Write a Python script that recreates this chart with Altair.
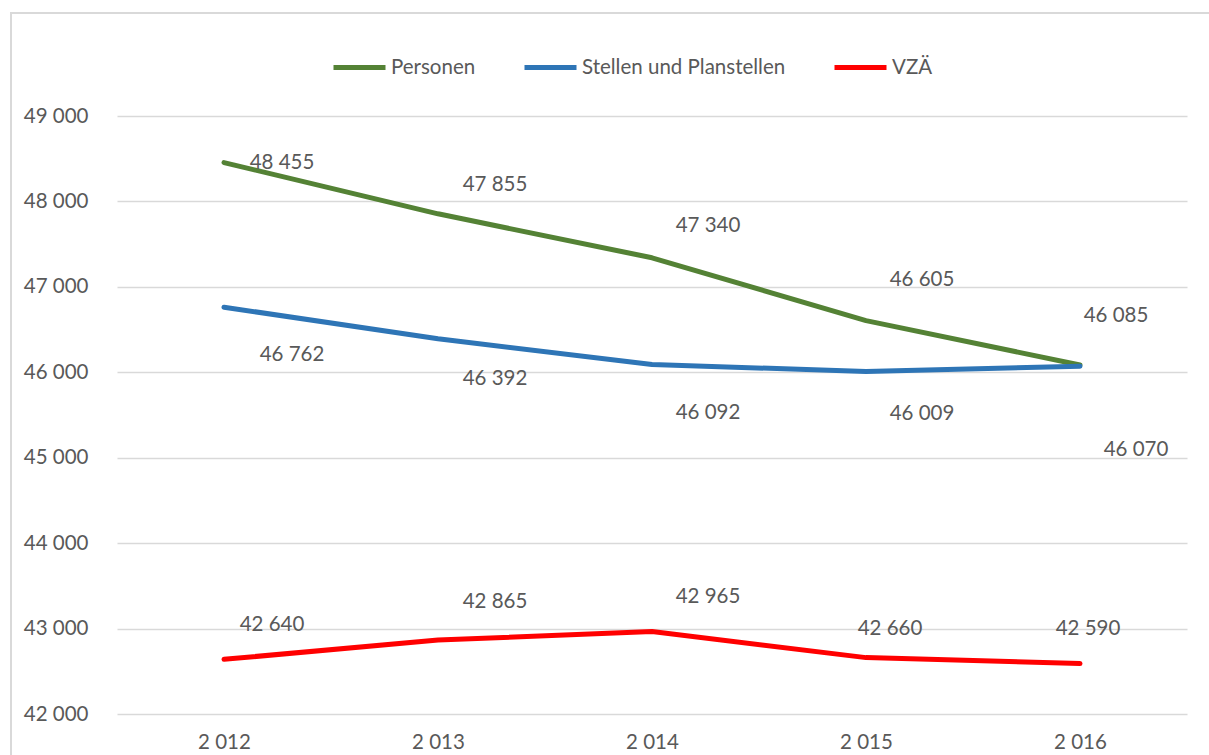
import altair as alt
import pandas as pd

years = ["2 012", "2 013", "2 014", "2 015", "2 016"]
series_names = ["Personen", "Stellen und Planstellen", "VZÄ"]
personen = [48455, 47855, 47340, 46605, 46085]
stellen = [46762, 46392, 46092, 46009, 46070]
vza = [42640, 42865, 42965, 42660, 42590]
colors = ["#548235", "#2E75B6", "#FF0000"]

# label offsets (style): (dx, dy) in pixels per point
label_offsets = {
    "Personen": [(58, 0), (57, -29), (56, -32), (56, -41), (36, -49)],
    "Stellen und Planstellen": [(68, 48), (57, 40), (56, 49), (56, 42), (56, 84)],
    "VZÄ": [(48, -34), (57, -38), (56, -35), (24, -29), (8, -35)],
}

rows = []
for name, vals in zip(series_names, [personen, stellen, vza]):
    for i, (y, v) in enumerate(zip(years, vals)):
        rows.append({"Jahr": y, "Serie": name, "Wert": v, "idx": i,
                     "label": f"{v:,}".replace(",", " ")})
df = pd.DataFrame(rows)

FONT = "Lato"
TXT = "#595959"
FS = 20.5

x_scale = alt.Scale(type="point", padding=0.5)
y_scale = alt.Scale(domain=[42000, 49000], nice=False, zero=False)

x_enc = alt.X("Jahr:N", sort=years, scale=x_scale,
              axis=alt.Axis(title=None, labelAngle=0, domain=False, ticks=False,
                            labelPadding=18, labelFontSize=FS, labelColor=TXT,
                            labelFont=FONT, grid=False))
y_enc = alt.Y("Wert:Q", scale=y_scale,
              axis=alt.Axis(title=None, values=list(range(42000, 49001, 1000)),
                            labelExpr="replace(format(datum.value, ',d'), ',', ' ')",
                            domain=False, ticks=False, labelPadding=29,
                            labelFontSize=FS, labelColor=TXT, labelFont=FONT,
                            gridColor="#d9d9d9", gridWidth=1.5))

base = alt.Chart(df)

border = alt.Chart(pd.DataFrame({"a": [0]})).mark_rect(
    fill="transparent", stroke="#d9d9d9", strokeWidth=2
).encode(x=alt.value(-106), x2=alt.value(1130), y=alt.value(-103), y2=alt.value(680))

lines = base.mark_line(strokeWidth=5, strokeCap="round", strokeJoin="round").encode(
    x=x_enc, y=y_enc,
    color=alt.Color("Serie:N", sort=series_names,
                    scale=alt.Scale(domain=series_names, range=colors),
                    legend=alt.Legend(title=None, orient="none", direction="horizontal",
                                      legendX=214, legendY=-77,
                                      symbolType="stroke", symbolSize=2704,
                                      symbolStrokeWidth=5, labelFontSize=FS,
                                      labelColor=TXT, labelFont=FONT, labelOffset=3,
                                      labelLimit=0, columnPadding=38)),
    detail="Serie:N",
)

layers = [border, lines]
for name in series_names:
    for i, (dx, dy) in enumerate(label_offsets[name]):
        t = base.transform_filter(
            (alt.datum.Serie == name) & (alt.datum.idx == i)
        ).mark_text(dx=dx, dy=dy, fontSize=FS, font=FONT, color=TXT,
                    align="center", baseline="middle").encode(
            x=x_enc, y=y_enc, text="label:N")
        layers.append(t)

chart = alt.layer(*layers).properties(
    width=1070, height=598,
    background="white",
    autosize=alt.AutoSizeParams(type="none"),
    padding={"left": 117, "top": 116, "right": 22, "bottom": 41},
).configure_view(stroke=None, strokeWidth=0)

chart.save("out.html", embed_options={"renderer": "svg", "actions": False})
